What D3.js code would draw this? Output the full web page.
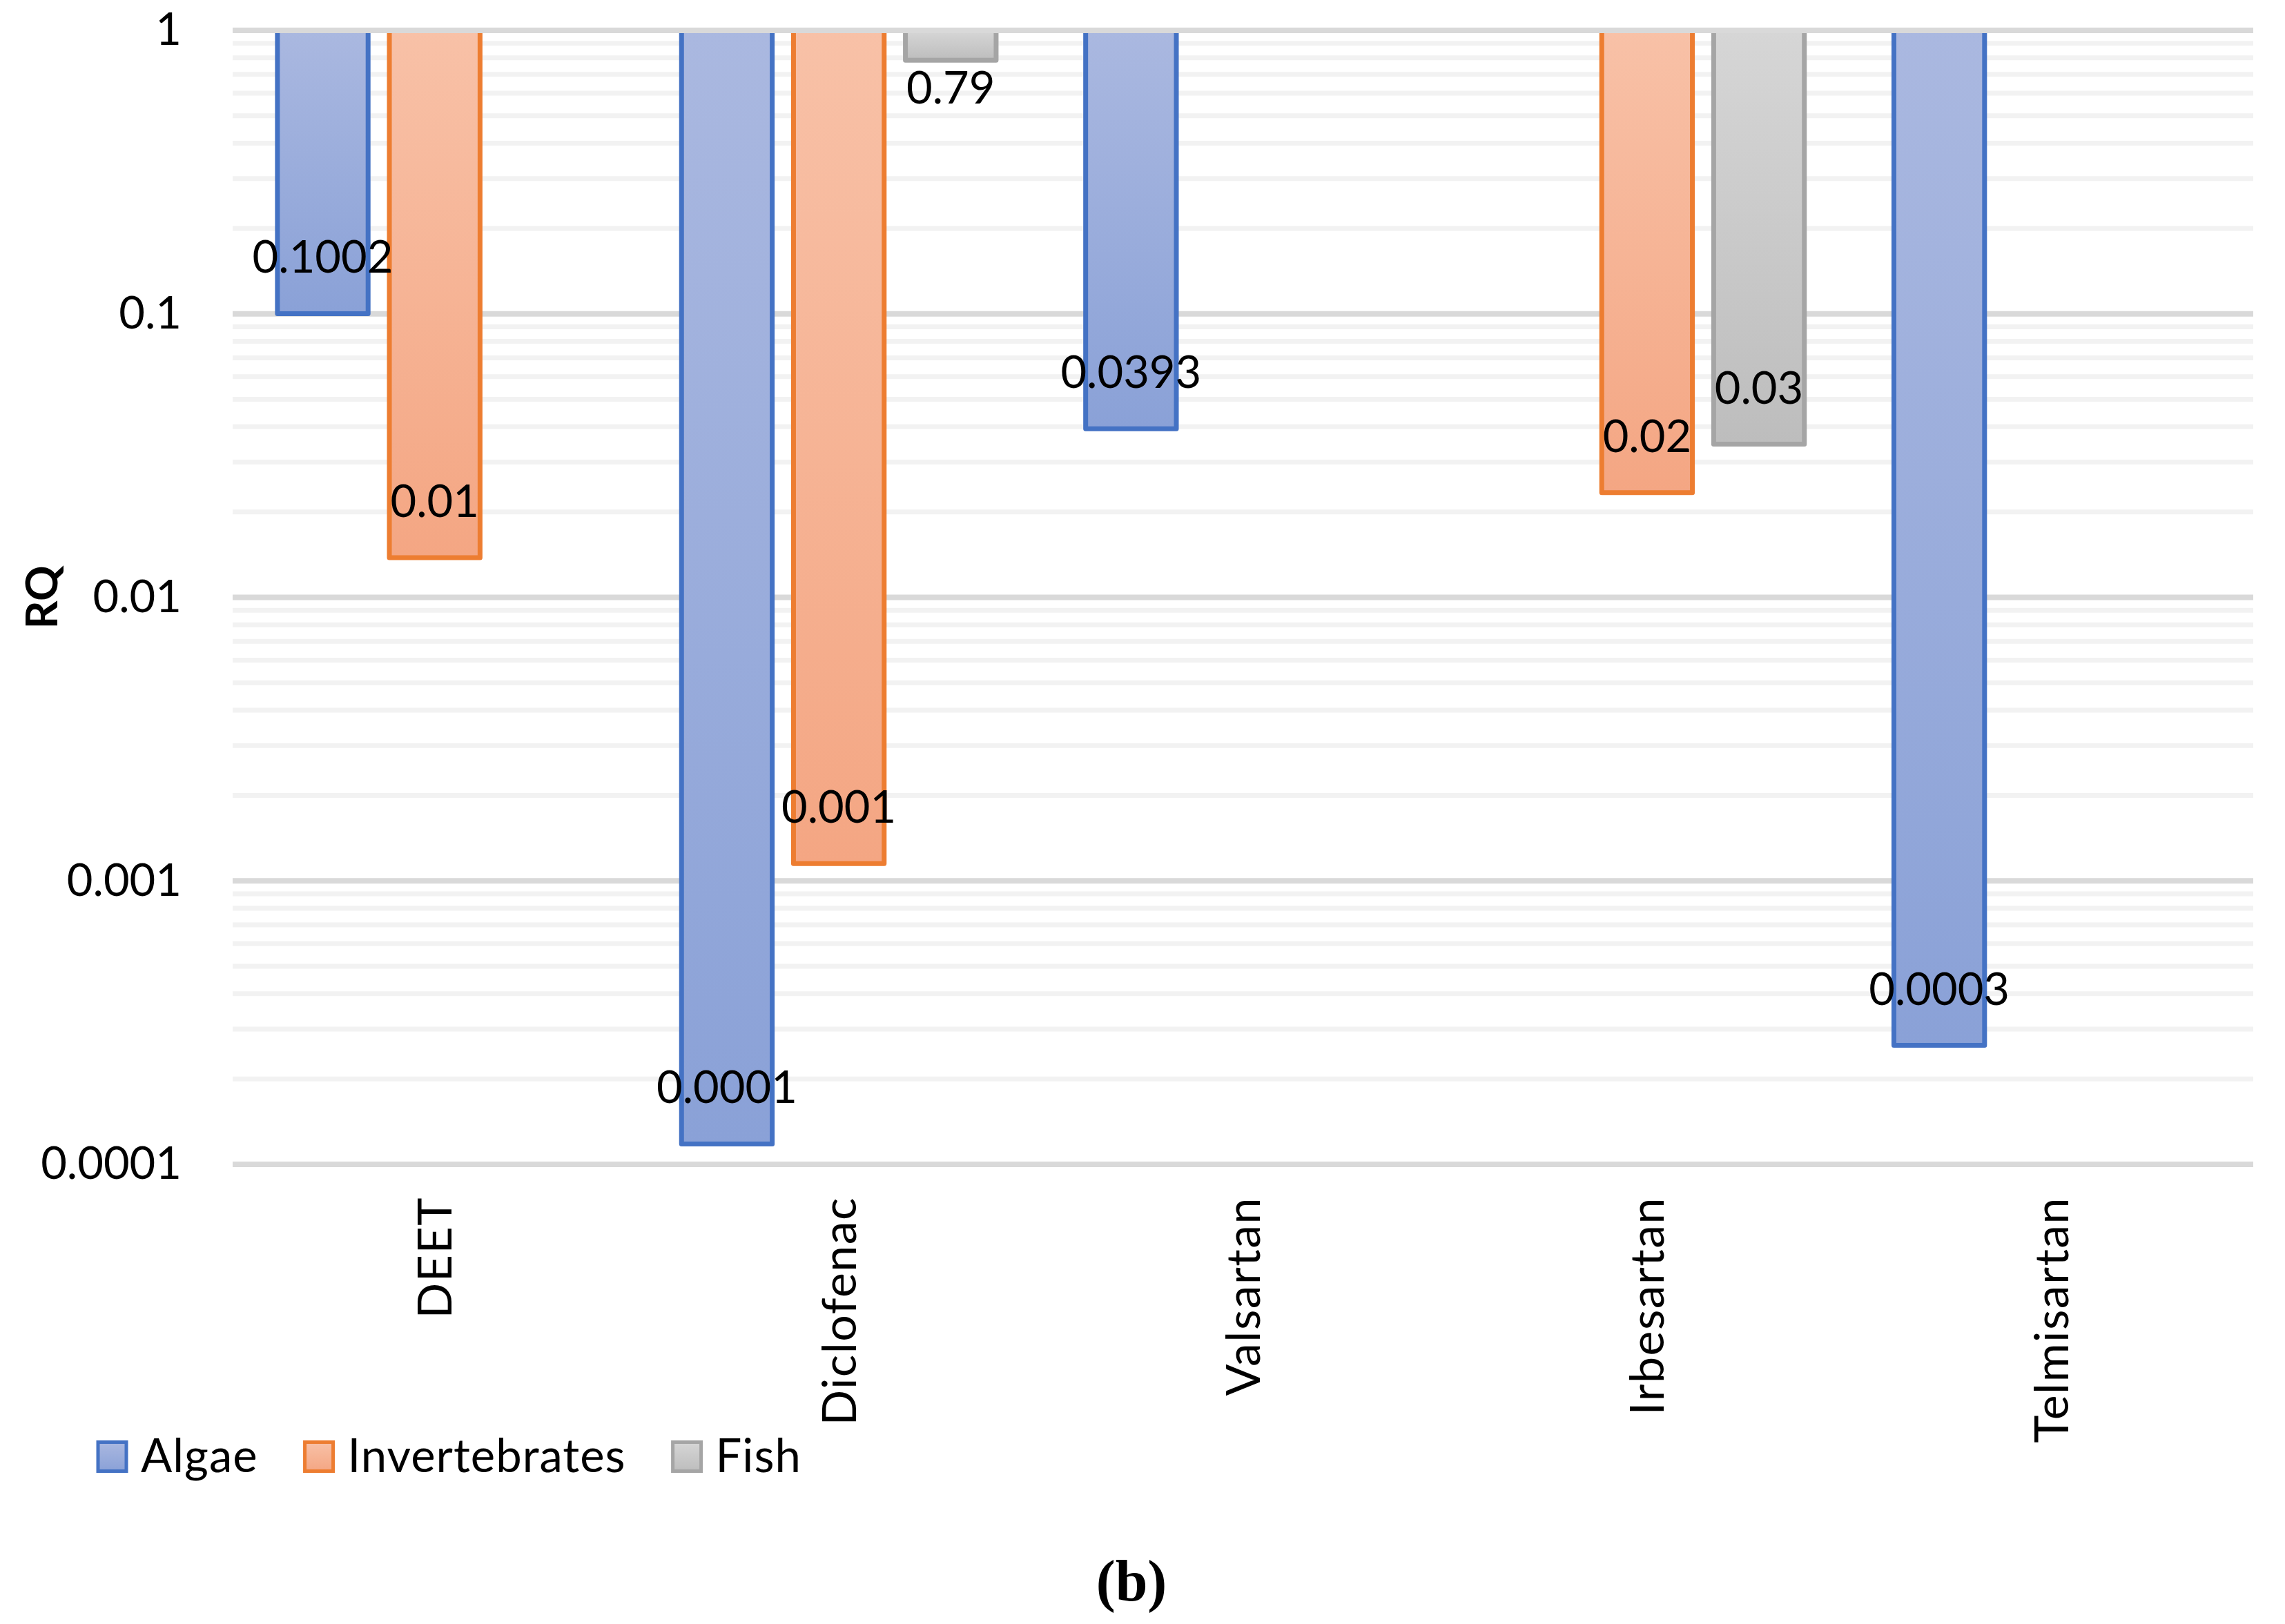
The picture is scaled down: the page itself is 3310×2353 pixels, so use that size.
<!DOCTYPE html>
<html>
<head>
<meta charset="utf-8">
<script src="https://cdn.jsdelivr.net/npm/d3@7"></script>
<style>
  body { margin: 0; background: #fff; }
  text { font-family: Lato, "Open Sans", sans-serif; fill: #000; }
</style>
</head>
<body>
<script>
var categories = ["DEET", "Diclofenac", "Valsartan", "Irbesartan", "Telmisartan"]
var seriesNames = ["Algae", "Invertebrates", "Fish"]

// RQ values (null = no bar)
var algae = [0.1002, 0.000118, 0.0393, null, 0.000263]
var invertebrates = [0.0138, 0.00115, null, 0.0234, null]
var fish = [null, 0.785, null, 0.0347, null]

// data labels as printed on the chart
var algaeLabels = ["0.1002", "0.0001", "0.0393", null, "0.0003"]
var invertebratesLabels = ["0.01", "0.001", null, "0.02", null]
var fishLabels = [null, "0.79", null, "0.03", null]

var yTicks = [1, 0.1, 0.01, 0.001, 0.0001]
var yTickLabels = ["1", "0.1", "0.01", "0.001", "0.0001"]

var W = 3310, H = 2353
var margin = {top: 44, right: 46, bottom: 666, left: 337}
var plotW = W - margin.left - margin.right,
    plotH = H - margin.top - margin.bottom

var styles = {
  Algae:         {stroke: "#4472c4", top: "#aab8e0", bottom: "#8aa1d7"},
  Invertebrates: {stroke: "#ed7d31", top: "#f8c1a7", bottom: "#f4a683"},
  Fish:          {stroke: "#a5a5a5", top: "#d6d6d6", bottom: "#bdbdbd"}
}

var values = {Algae: algae, Invertebrates: invertebrates, Fish: fish}
var labels = {Algae: algaeLabels, Invertebrates: invertebratesLabels, Fish: fishLabels}

// scales
var x0 = d3.scaleBand().domain(categories).range([0, plotW])
var x1 = d3.scaleBand().domain(seriesNames).range([0, x0.bandwidth()])
    .paddingInner(0.19).paddingOuter(0.40)
var y = d3.scaleLog().domain([0.0001, 1]).range([plotH, 0])

var svg = d3.select("body").append("svg")
    .attr("width", W)
    .attr("height", H)

// gradients for the bar fills
var defs = svg.append("defs")
seriesNames.forEach(function(s) {
  var g = defs.append("linearGradient")
      .attr("id", "grad-" + s)
      .attr("x1", 0).attr("y1", 0).attr("x2", 0).attr("y2", 1)
  g.append("stop").attr("offset", "0%").attr("stop-color", styles[s].top)
  g.append("stop").attr("offset", "100%").attr("stop-color", styles[s].bottom)
})

var plot = svg.append("g")
    .attr("transform", "translate(" + margin.left + "," + margin.top + ")")

// gridlines: minor first, then major
var allTicks = y.ticks()
var isMajor = function(d) { return Math.abs(Math.log10(d) - Math.round(Math.log10(d))) < 1e-9 }

plot.append("g").selectAll("line")
    .data(allTicks.filter(function(d) { return !isMajor(d) }))
    .enter().append("line")
    .attr("x1", 0).attr("x2", plotW)
    .attr("y1", y).attr("y2", y)
    .attr("stroke", "#f2f2f2")
    .attr("stroke-width", 7)

plot.append("g").selectAll("line")
    .data(yTicks.filter(function(d) { return d < 1 }))
    .enter().append("line")
    .attr("x1", 0).attr("x2", plotW)
    .attr("y1", y).attr("y2", y)
    .attr("stroke", "#d9d9d9")
    .attr("stroke-width", 8)

// flatten the data
var bars = []
categories.forEach(function(c, i) {
  seriesNames.forEach(function(s) {
    if (values[s][i] != null) bars.push({cat: c, series: s, value: values[s][i], label: labels[s][i]})
  })
})

// bars hang from the top of the axis (1) down to the value
plot.append("g").selectAll("rect")
    .data(bars)
    .enter().append("rect")
    .attr("x", function(d) { return x0(d.cat) + x1(d.series) })
    .attr("y", y(1))
    .attr("width", x1.bandwidth())
    .attr("height", function(d) { return y(d.value) - y(1) })
    .attr("fill", function(d) { return "url(#grad-" + d.series + ")" })
    .attr("stroke", function(d) { return styles[d.series].stroke })
    .attr("stroke-width", 7)
    .attr("stroke-linejoin", "round")

// top gridline sits over the bar tops
plot.append("line")
    .attr("x1", 0).attr("x2", plotW)
    .attr("y1", y(1)).attr("y2", y(1))
    .attr("stroke", "#d9d9d9")
    .attr("stroke-width", 8)

// data labels, inside the bar end (outside if the bar is too short)
plot.append("g").selectAll("text")
    .data(bars)
    .enter().append("text")
    .attr("x", function(d) { return x0(d.cat) + x1(d.series) + x1.bandwidth() / 2 })
    .attr("y", function(d) {
      var len = y(d.value) - y(1)
      return len > 120 ? y(d.value) - 59 : y(d.value) + 63
    })
    .attr("text-anchor", "middle")
    .style("font-size", "65px")
    .text(function(d) { return d.label })

// y axis
var yAxis = plot.append("g")
    .call(d3.axisLeft(y)
      .tickValues(yTicks)
      .tickFormat(function(d, i) { return yTickLabels[i] })
      .tickSize(0)
      .tickPadding(74))
yAxis.select(".domain").remove()
yAxis.selectAll("text")
    .style("font-size", "65px")
    .style("font-family", "Lato, sans-serif")
    .attr("fill", "#000")

// x axis with rotated labels
var xAxis = plot.append("g")
    .attr("transform", "translate(0," + plotH + ")")
    .call(d3.axisBottom(x0).tickSize(0))
xAxis.select(".domain").remove()
xAxis.selectAll("text")
    .style("font-size", "68px")
    .style("letter-spacing", "1.5px")
    .style("font-family", "Lato, sans-serif")
    .attr("fill", "#000")
    .attr("transform", "rotate(-90)")
    .attr("x", -47)
    .attr("y", 0)
    .attr("dy", "0.36em")
    .attr("text-anchor", "end")

// y axis title
svg.append("text")
    .attr("transform", "translate(83," + (margin.top + plotH / 2) + ") rotate(-90)")
    .attr("text-anchor", "middle")
    .style("font-size", "64px")
    .style("font-weight", "bold")
    .text("RQ")

// legend
var legend = svg.append("g")
var lx = 142
seriesNames.forEach(function(s) {
  legend.append("rect")
      .attr("x", lx).attr("y", 2089.5)
      .attr("width", 41).attr("height", 42)
      .attr("fill", "url(#grad-" + s + ")")
      .attr("stroke", styles[s].stroke)
      .attr("stroke-width", 5)
  var t = legend.append("text")
      .attr("x", lx + 62)
      .attr("y", 2133)
      .style("font-size", "67px")
      .style("letter-spacing", "1px")
      .text(s)
  lx = lx + 62 + t.node().getComputedTextLength() + 68
})

// panel letter
svg.append("text")
    .attr("x", 1639)
    .attr("y", 2319)
    .attr("text-anchor", "middle")
    .style("font-family", "'Liberation Serif', 'Times New Roman', serif")
    .style("font-weight", "bold")
    .style("font-size", "84px")
    .text("(b)")
</script>
</body>
</html>
